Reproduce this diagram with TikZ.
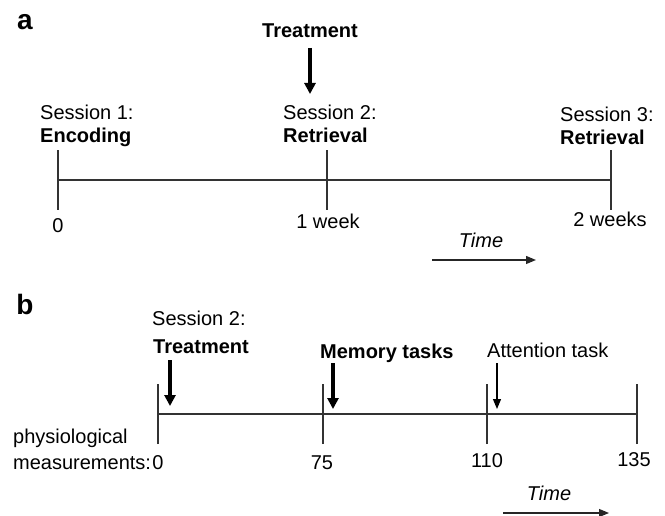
\documentclass[tikz,border=0pt]{standalone}
\usepackage{fontspec}
\setmainfont{Liberation Sans}
\usetikzlibrary{arrows.meta}
\begin{document}
\begin{tikzpicture}[x=1pt,y=-1pt,
  txt/.style={inner sep=0pt,font=\fontsize{20}{22}\selectfont},
  btxt/.style={txt,font=\fontsize{20}{22}\selectfont\bfseries},
  itxt/.style={txt,font=\fontsize{20}{22}\selectfont\itshape},
  panel/.style={inner sep=0pt,font=\fontsize{28}{30}\selectfont\bfseries},
  axis/.style={line width=1.3pt,draw=black!80},
  tick/.style={line width=1.3pt,draw=black!80},
  bigarrow/.style={line width=3.2pt,-{Triangle[width=11pt,length=11pt]}},
  thinarrow/.style={line width=1.2pt,-{Triangle[width=8pt,length=10pt]}},
  timearrow/.style={line width=1.2pt,draw=black!85,-{Triangle[width=8pt,length=10pt]}}]
\useasboundingbox (0,0) rectangle (665,516);

% ---------- panel a ----------
\node[panel,anchor=base] (la) at (25,30) {a};
\node[btxt,anchor=base] (treatA) at (310,38) {Treatment};
\coordinate (tAs) at (310,48);
\coordinate (tAe) at (310,94);
\draw[bigarrow] (tAs) -- (tAe);

\node[txt,anchor=base west] (s1) at (40,120) {Session 1:};
\node[btxt,anchor=base west] (enc) at (40,143) {Encoding};
\node[txt,anchor=base west] (s2) at (283,120) {Session 2:};
\node[btxt,anchor=base west] (ret2) at (283,143) {Retrieval};
\node[txt,anchor=base west] (s3) at (560,122) {Session 3:};
\node[btxt,anchor=base west] (ret3) at (560,145) {Retrieval};

\coordinate (a0) at (58,180);
\coordinate (a1) at (327,180);
\coordinate (a2) at (611,180);
\draw[axis] (a0) -- (a2);
\foreach \p in {a0,a1,a2}{\draw[tick] ([yshift=-30pt]\p) -- ([yshift=30pt]\p);}

\node[txt,anchor=base] (n0) at (58,233) {0};
\node[txt,anchor=base] (n1w) at (328,229) {1 week};
\node[txt,anchor=base] (n2w) at (610,227) {2 weeks};

\node[itxt,anchor=base] (timeA) at (481,248) {Time};
\coordinate (tas) at (432,260);
\coordinate (tae) at (536,260);
\draw[timearrow] (tas) -- (tae);

% ---------- panel b ----------
\node[panel,anchor=base] (lb) at (25,315) {b};
\node[txt,anchor=base west] (s2b) at (152,325) {Session 2:};
\node[btxt,anchor=base west] (treatB) at (153,353) {Treatment};
\node[btxt,anchor=base west] (mem) at (320,358) {Memory tasks};
\node[txt,anchor=base west] (att) at (487,357) {Attention task};

\coordinate (b0) at (158,414);
\coordinate (b1) at (323,414);
\coordinate (b2) at (487,414);
\coordinate (b3) at (637,414);
\draw[axis] (b0) -- (b3);
\foreach \p in {b0,b1,b2,b3}{\draw[tick] ([yshift=-30pt]\p) -- ([yshift=30pt]\p);}

\coordinate (trs) at (170,360);
\coordinate (tre) at (170,406);
\draw[bigarrow] (trs) -- (tre);
\coordinate (ms) at (333,363);
\coordinate (me) at (333,409);
\draw[bigarrow] (ms) -- (me);
\coordinate (as) at (497,363);
\coordinate (ae) at (497,409);
\draw[thinarrow] (as) -- (ae);

\node[txt,anchor=base west] (phys) at (13,443) {physiological};
\node[txt,anchor=base west] (meas) at (13,469) {measurements:};
\node[txt,anchor=base] (m0) at (158,469) {0};
\node[txt,anchor=base] (m75) at (322,469) {75};
\node[txt,anchor=base] (m110) at (487,467) {110};
\node[txt,anchor=base] (m135) at (634,466) {135};

\node[itxt,anchor=base] (timeB) at (549,500) {Time};
\coordinate (tbs) at (503,513);
\coordinate (tbe) at (609,513);
\draw[timearrow] (tbs) -- (tbe);
\end{tikzpicture}
\end{document}
